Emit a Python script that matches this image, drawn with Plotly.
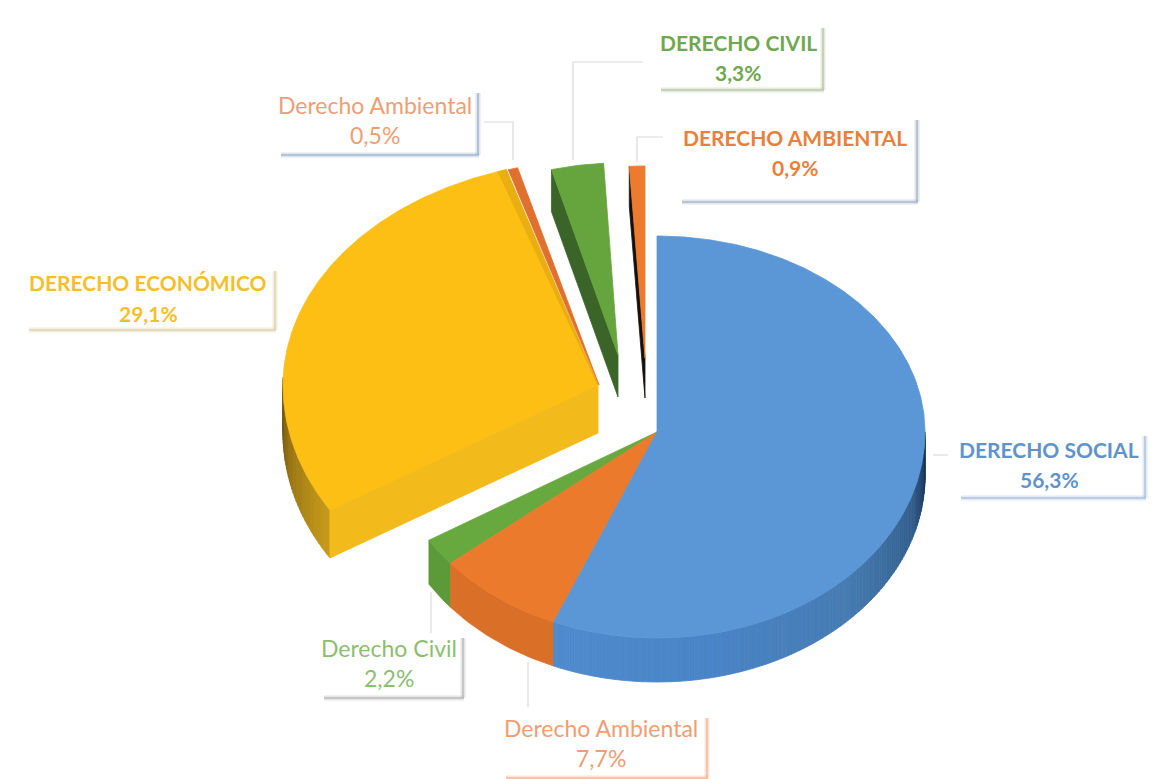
import numpy as np
import plotly.graph_objects as go

# ---------- data ----------
categories = ["DERECHO SOCIAL", "Derecho Ambiental", "Derecho Civil", "DERECHO ECONÓMICO",
              "Derecho Ambiental", "DERECHO CIVIL", "DERECHO AMBIENTAL"]
values = [56.3, 7.7, 2.2, 29.1, 0.5, 3.3, 0.9]
value_labels = ["56,3%", "7,7%", "2,2%", "29,1%", "0,5%", "3,3%", "0,9%"]
bold_flags = [True, False, False, True, False, True, True]

# ---------- style ----------
top_colors = ["#5B97D6", "#EC7A2C", "#68A93F", "#FDBF14", "#E0702F", "#66A53D", "#ED7B2E"]
text_colors = ["#5F93CC", "#EE9E74", "#8CBE70", "#F6BE2C", "#EE9E74", "#6FA850", "#EA7F3B"]
shadow_colors = ["#A9C1E2", "#F1B896", "#B5B9B5", "#DDD3A8", "#9DB4D2", "#B9C6A6", "#A6B4C8"]
# cx, cy, rx, ry_top, ry_bottom, depth
geom = [(657, 432, 268, 196, 206, 44), (657, 432, 268, 196, 206, 44), (657, 432, 268, 196, 206, 44),
        (598, 385, 315, 225, 238, 48), (599, 385, 312, 225, 238, 48),
        (618, 355, 255, 192, 192, 42), (645, 358, 278, 192, 192, 40)]
side_ramps = {0: (["#14294A", "#335E8C", "#467CB2", "#4A85C8", "#4F8BCD"], [90, 108, 135, 170, 203]),
              3: (["#C99C1A", "#8F6C12", "#6E5410"], [238, 262, 275])}
flat_sides = {1: "#DA7028", 2: "#5C9A39"}
# box: left, top, right, bottom; line centre x, first/second line y
boxes = [(957, 433, 1145, 498), (502, 715, 707, 778), (320, 635, 463, 698), (25, 268, 275, 330),
         (277, 90, 478, 155), (657, 25, 823, 90), (678, 117, 917, 202)]
text_pos = [(1049, 449, 479), (601, 728, 758), (389, 648, 678), (148, 282, 313),
            (375, 105, 135), (738, 42, 72), (795, 137, 167)]
leaders = [([933, 948], [455, 455]), ([528, 528], [662, 707]), ([431, 431], [592, 633]), None,
           ([513, 513, 484], [160, 122, 122]), ([573, 573, 643], [160, 62, 62]),
           ([637, 637, 663], [162, 137, 137])]


def hex2rgb(h):
    return np.array([int(h[i:i + 2], 16) for i in (1, 3, 5)], float)


def ramp(cols, stops, t):
    rgb = [hex2rgb(c) for c in cols]
    v = [np.interp(t, stops, [c[i] for c in rgb]) for i in range(3)]
    return "rgb(%d,%d,%d)" % tuple(v)


def rim(g, theta, shift=0):
    cx, cy, rx, rt, rb, _ = g
    a = np.radians(theta)
    s, c = np.sin(a), np.cos(a)
    return cx + rx * s, cy - np.where(c > 0, rt, rb) * c + shift


fig = go.Figure()


def poly(xs, ys, color):
    fig.add_trace(go.Scatter(x=list(xs), y=list(ys), mode="lines", fill="toself", fillcolor=color,
                             line=dict(color=color, width=0.8), hoverinfo="skip", showlegend=False))


def top(g, a0, a1, color):
    th = np.linspace(a0, a1, max(3, int((a1 - a0) * 2)))
    x, y = rim(g, th)
    poly(np.r_[g[0], x, g[0]], np.r_[g[1], y, g[1]], color)


def cut_face(g, a, color):
    x, y = rim(g, a)
    d = g[5]
    poly([g[0], x, x, g[0], g[0]], [g[1], y, y + d, g[1] + d, g[1]], color)


def side_flat(g, a0, a1, color):
    th = np.linspace(a0, a1, 30)
    x, y = rim(g, th)
    _, yb = rim(g, th, g[5])
    poly(np.r_[x, x[::-1], x[0]], np.r_[y, yb[::-1], y[0]], color)


def side(g, a0, a1, colors, stops, n=1.0):
    a0, a1 = max(a0, 90), min(a1, 272)
    cuts = np.clip(np.arange(a0, a1 + n, n), a0, a1)
    for p, q in zip(cuts[:-1], cuts[1:]):
        if q <= p:
            continue
        th = np.linspace(p, q, 3)
        x, y = rim(g, th)
        _, yb = rim(g, th, g[5])
        poly(np.r_[x, x[::-1], x[0]], np.r_[y, yb[::-1], y[0]], ramp(colors, stops, 0.5 * (p + q)))


edges = np.r_[0, np.cumsum(values)] * 3.6
starts, ends = edges[:-1], edges[1:]

# exploded slices, back to front
cut_face(geom[6], starts[6], "#17100A")
top(geom[6], starts[6], ends[6], top_colors[6])
cut_face(geom[5], starts[5], "#3A6428")
top(geom[5], starts[5], ends[5], top_colors[5])
side(geom[3], starts[3], ends[3], *side_ramps[3])
cut_face(geom[3], starts[3], "#F3BA1B")
top(geom[3], starts[3], ends[3], top_colors[3])
top(geom[3], ends[3] - 1.6, ends[3], "#E9AE12")
top(geom[4], starts[4], ends[4], top_colors[4])
# main body
side_flat(geom[2], starts[2], ends[2], flat_sides[2])
side_flat(geom[1], starts[1], ends[1], flat_sides[1])
side(geom[0], starts[0], ends[0], *side_ramps[0])
for i in (2, 1, 0):
    top(geom[i], starts[i], ends[i], top_colors[i])

# leaders
for ld in leaders:
    if ld:
        fig.add_trace(go.Scatter(x=ld[0], y=ld[1], mode="lines", line=dict(color="#DADADA", width=1.2),
                                 hoverinfo="skip", showlegend=False))

shapes, notes = [], []
for i, (l, t, r, b) in enumerate(boxes):
    for w, op in ((6, 0.18), (2.5, 0.75)):
        shapes.append(dict(type="line", xref="x", yref="y", x0=l + 4, x1=r + 1, y0=b, y1=b,
                           line=dict(color=shadow_colors[i], width=w), opacity=op))
        shapes.append(dict(type="line", xref="x", yref="y", x0=r, x1=r, y0=t + 3, y1=b,
                           line=dict(color=shadow_colors[i], width=w), opacity=op))
    cx, y1, y2 = text_pos[i]
    for txt, y in ((categories[i], y1), (value_labels[i], y2)):
        shown = "<b>%s</b>" % txt if bold_flags[i] else txt
        notes.append(dict(x=cx, y=y, xref="x", yref="y", text=shown, showarrow=False,
                          xanchor="center", yanchor="middle",
                          font=dict(family="Lato", size=21 if bold_flags[i] else 23, color=text_colors[i])))

fig.update_layout(width=1167, height=779, margin=dict(l=0, r=0, t=0, b=0), paper_bgcolor="white",
                  plot_bgcolor="white", showlegend=False, shapes=shapes, annotations=notes,
                  xaxis=dict(range=[0, 1167], visible=False, fixedrange=True),
                  yaxis=dict(range=[779, 0], visible=False, fixedrange=True))
fig.write_html("out.html", post_script="document.body.style.margin='0';",
               config=dict(displayModeBar=False))
